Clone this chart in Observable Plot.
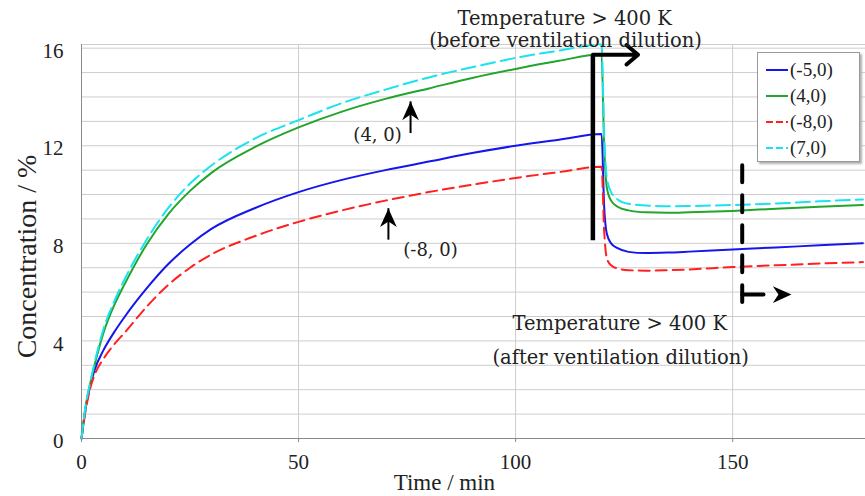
<!DOCTYPE html>
<html>
<head>
<meta charset="utf-8">
<script src="https://cdn.jsdelivr.net/npm/d3@7"></script>
<script src="https://cdn.jsdelivr.net/npm/@observablehq/plot@0.6"></script>
<style>
  html, body { margin: 0; padding: 0; background: #fff; }
  #wrap { position: relative; width: 865px; height: 496px; }
  #legend {
    position: absolute; left: 757px; top: 52px; width: 103px; height: 110px;
    background: #fff; border: 1px solid #9a9a9a; box-shadow: 2px 2px 2px #b0b0b0;
    font-family: "Liberation Serif", serif; font-size: 19px; color: #222; box-sizing: border-box;
    padding-top: 4px;
  }
  .row { display: flex; align-items: center; height: 26px; padding-left: 7px; }
  .row svg { margin-right: 1px; }
</style>
</head>
<body>
<div id="wrap"></div>
<script>
// ---- data ----
const times = [0, 1, 2, 3, 5, 7.5, 10, 15, 20, 25, 30, 40, 50, 60, 70, 80, 90, 100, 110, 119.8,
               120.4, 121, 122, 123.5, 126, 130, 135, 140, 150, 160, 170, 180];
const seriesNames = ["(-5,0)", "(4,0)", "(-8,0)", "(7,0)"];
const seriesColors = ["#1515ee", "#22a52c", "#ff2020", "#19e3ef"];
const seriesDash = [null, null, "11,6", "14,6"];
const valsM5 = [0, 1.3, 2.15, 2.8, 3.6, 4.35, 5.0, 6.15, 7.15, 7.95, 8.6, 9.45, 10.1, 10.6, 11.0, 11.35, 11.7, 12.0, 12.25, 12.48,
                9.5, 8.4, 8.0, 7.8, 7.65, 7.6, 7.62, 7.66, 7.75, 7.83, 7.92, 8.0];
const vals4 = [0, 1.35, 2.25, 3.0, 4.3, 5.45, 6.35, 7.95, 9.2, 10.15, 10.9, 11.95, 12.75, 13.4, 13.92, 14.35, 14.78, 15.15, 15.48, 15.75,
               12.0, 10.3, 9.75, 9.5, 9.35, 9.27, 9.25, 9.27, 9.33, 9.42, 9.5, 9.57];
const valsM8 = [0, 1.2, 2.05, 2.6, 3.25, 3.85, 4.35, 5.4, 6.3, 7.0, 7.55, 8.3, 8.88, 9.35, 9.75, 10.1, 10.4, 10.68, 10.92, 11.14,
                8.5, 7.4, 7.1, 6.97, 6.9, 6.88, 6.9, 6.93, 7.03, 7.1, 7.17, 7.23];
const vals7 = [0, 1.4, 2.3, 3.1, 4.45, 5.6, 6.55, 8.15, 9.45, 10.45, 11.2, 12.3, 13.05, 13.75, 14.3, 14.8, 15.22, 15.6, 15.9, 16.15,
               12.5, 10.7, 10.1, 9.8, 9.62, 9.55, 9.52, 9.53, 9.57, 9.63, 9.72, 9.8];
const seriesValues = [valsM5, vals4, valsM8, vals7];

const xTicks = [0, 50, 100, 150];
const yTicks = [0, 4, 8, 12, 16];
const yGrid = d3.range(0, 17);

const notes = [
  {x: 111.3, y: 17.2, text: "Temperature > 400 K"},
  {x: 111.5, y: 16.3, text: "(before ventilation dilution)"},
  {x: 124.0, y: 4.72, text: "Temperature > 400 K"},
  {x: 124.2, y: 3.33, text: "(after ventilation dilution)"}
];
const pointLabels = [
  {x: 68.2, y: 12.45, text: "(4, 0)"},
  {x: 80.4, y: 7.7, text: "(-8, 0)"}
];
const upArrows = [{x: 75.8, y1: 12.5, y2: 13.8}, {x: 70.7, y1: 8.13, y2: 9.42}];
const bracket = [{x: 117.8, y: 8.13}, {x: 117.8, y: 15.73}];
const bracketArrow = [{x1: 117.8, x2: 128.2, y: 15.73}];
const dashV = [{x: 152.2, y: 11.2}, {x: 152.2, y: 5.6}];
const dashH = [{x: 152.2, y: 5.9}, {x: 157.1, y: 5.9}];
const dashHead = [{x: 161.4, y: 5.9}];

// custom arrowhead symbol (pointing up before rotation)
const arrowHead = {draw(ctx, size) { const s = Math.sqrt(size); ctx.moveTo(-0.45 * s, 0.5 * s); ctx.lineTo(0, -0.5 * s); ctx.lineTo(0.45 * s, 0.5 * s); ctx.lineTo(0, 0.2 * s); ctx.closePath(); }};

// ---- build ----
const lineMarks = [0, 1, 2, 3].map(i =>
  Plot.line(times.map((t, j) => ({t, c: seriesValues[i][j]})), {
    x: "t", y: "c", stroke: seriesColors[i], strokeWidth: 2,
    strokeDasharray: seriesDash[i] ?? undefined, curve: "monotone-x"
  })
);

const chart = Plot.plot({
  width: 865, height: 496,
  marginLeft: 81, marginRight: 0, marginTop: 44, marginBottom: 58,
  style: {fontFamily: "Liberation Serif, serif", fontSize: "21px", background: "#fff", color: "#222"},
  x: {domain: [0, 180.6]},
  y: {domain: [0, 16.15]},
  marks: [
    Plot.gridY(yGrid, {stroke: "#cdcdcd", strokeOpacity: 1}),
    Plot.gridX([50, 100, 150], {stroke: "#cdcdcd", strokeOpacity: 1}),
    Plot.ruleY([16.15], {stroke: "#cdcdcd"}),
    Plot.ruleX([0], {stroke: "#8a8a8a"}),
    Plot.ruleY([0], {stroke: "#8a8a8a"}),
    Plot.axisX(xTicks, {tickSize: 4, tickPadding: 12, stroke: "#888", label: null, fontSize: 21}),
    Plot.axisY(yTicks, {tickSize: 0, tickPadding: 18, label: null, fontSize: 21, dy: 3}),
    Plot.text(["Concentration / %"], {frameAnchor: "left", textAnchor: "middle", lineAnchor: "middle", rotate: -90, dx: -54, dy: 15, fontSize: 28}),
    Plot.text([{x: 83.6}], {x: "x", text: () => "Time / min", frameAnchor: "bottom", lineAnchor: "middle", dy: 44, fontSize: 23}),
    ...lineMarks,
    Plot.ruleX(upArrows, {x: "x", y1: "y1", y2: "y2", stroke: "#000", strokeWidth: 2}),
    Plot.dot(upArrows, {x: "x", y: "y2", symbol: arrowHead, r: 10.5, fill: "#000", stroke: null, dy: 9}),
    Plot.line(bracket, {x: "x", y: "y", stroke: "#000", strokeWidth: 4.5, strokeLinecap: "butt"}),
    Plot.arrow(bracketArrow, {x1: "x1", x2: "x2", y1: "y", y2: "y", stroke: "#000", strokeWidth: 4, headLength: 6, headAngle: 80}),
    Plot.line(dashV, {x: "x", y: "y", stroke: "#000", strokeWidth: 4, strokeDasharray: "17,13"}),
    Plot.line(dashH, {x: "x", y: "y", stroke: "#000", strokeWidth: 4}),
    Plot.dot(dashHead, {x: "x", y: "y", symbol: arrowHead, rotate: 90, r: 10.5, fill: "#000", stroke: null}),
    Plot.text(notes, {x: "x", y: "y", text: "text", fontFamily: "DejaVu Serif, serif", fontSize: 19.5, fill: "#222"}),
    Plot.text(pointLabels, {x: "x", y: "y", text: "text", fontFamily: "DejaVu Serif, serif", fontSize: 18, fill: "#222"})
  ]
});

const wrap = document.getElementById("wrap");
wrap.appendChild(chart);

// legend (HTML overlay)
const legend = document.createElement("div");
legend.id = "legend";
seriesNames.forEach((name, i) => {
  const row = document.createElement("div");
  row.className = "row";
  const dash = seriesDash[i] ? `stroke-dasharray="7,3"` : "";
  row.innerHTML = `<svg width="24" height="10"><line x1="1" y1="5" x2="23" y2="5" stroke="${seriesColors[i]}" stroke-width="2" ${dash}/></svg><span>${name}</span>`;
  legend.appendChild(row);
});
wrap.appendChild(legend);
</script>
</body>
</html>
